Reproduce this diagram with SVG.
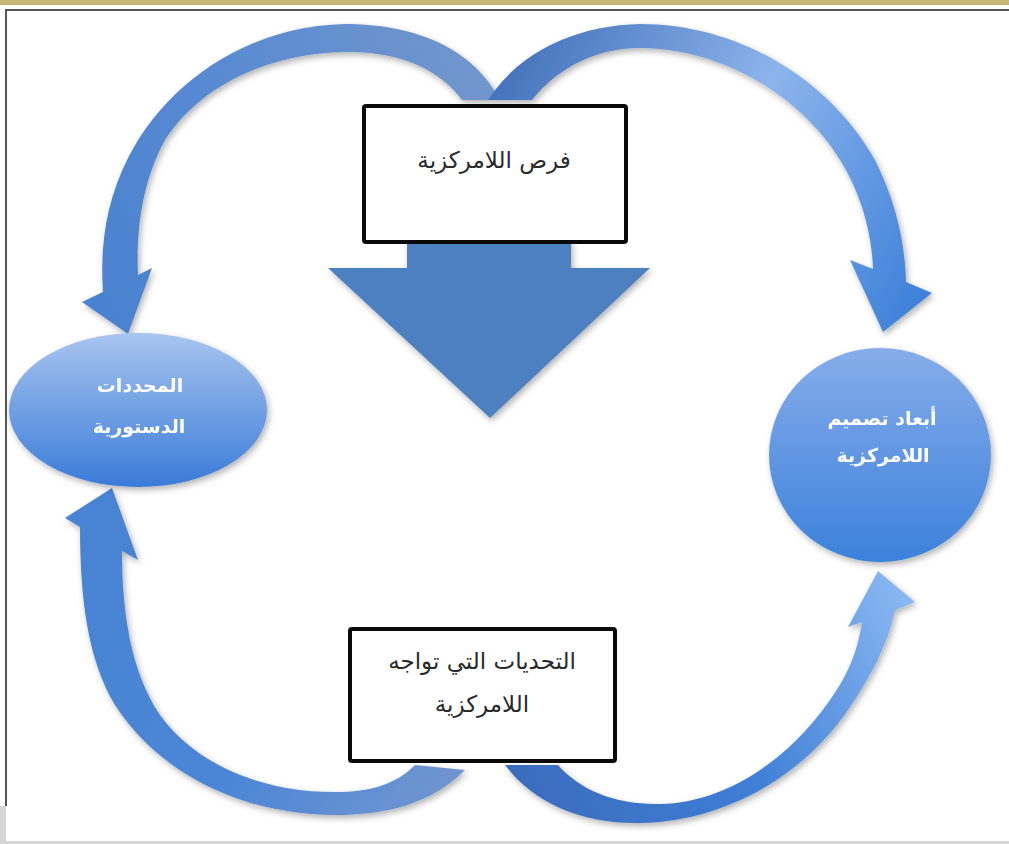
<svg xmlns="http://www.w3.org/2000/svg" width="1009" height="844" viewBox="0 0 1009 844">
<defs>
<style>
.box{fill:#ffffff;stroke:#0a0a0a;stroke-width:4}
.t{font-family:"DejaVu Sans",sans-serif;font-size:23px;fill:#2a2a2a;text-anchor:middle}
.w{font-family:"DejaVu Sans",sans-serif;font-size:19px;font-weight:bold;fill:#ffffff;text-anchor:middle}
</style>
<filter id="sh" x="-20%" y="-20%" width="140%" height="140%">
<feDropShadow dx="2" dy="3" stdDeviation="3" flood-color="#000" flood-opacity="0.3"/>
</filter>
<linearGradient id="gTL" gradientUnits="userSpaceOnUse" x1="500" y1="100" x2="100" y2="300">
<stop offset="0" stop-color="#7196cc"/><stop offset="0.5" stop-color="#5a8bd2"/><stop offset="1" stop-color="#4a82d0"/>
</linearGradient>
<linearGradient id="gTR" gradientUnits="userSpaceOnUse" x1="490" y1="100" x2="900" y2="330">
<stop offset="0" stop-color="#4674bc"/><stop offset="0.5" stop-color="#8db4ec"/><stop offset="1" stop-color="#3f82da"/>
</linearGradient>
<linearGradient id="gBL" gradientUnits="userSpaceOnUse" x1="460" y1="770" x2="100" y2="500">
<stop offset="0" stop-color="#6f95d0"/><stop offset="0.4" stop-color="#4b86d6"/><stop offset="1" stop-color="#4a84d4"/>
</linearGradient>
<linearGradient id="gBR" gradientUnits="userSpaceOnUse" x1="500" y1="765" x2="900" y2="570">
<stop offset="0" stop-color="#3a6cbd"/><stop offset="0.5" stop-color="#3f7fd6"/><stop offset="1" stop-color="#8bb9f2"/>
</linearGradient>
<linearGradient id="gE" x1="0" y1="0" x2="0" y2="1">
<stop offset="0" stop-color="#a8c5ef"/><stop offset="1" stop-color="#3a7bd8"/>
</linearGradient>
<linearGradient id="gC" x1="0" y1="0" x2="0" y2="1">
<stop offset="0" stop-color="#86adea"/><stop offset="1" stop-color="#3c81dc"/>
</linearGradient>
</defs>
<rect x="0" y="0" width="1009" height="844" fill="#ffffff"/>
<rect x="0" y="0" width="1009" height="5" fill="#c4b874"/>
<rect x="5" y="9" width="1004" height="2" fill="#555555"/>
<rect x="5" y="9" width="2" height="797" fill="#555555"/>
<rect x="0" y="806" width="6" height="38" fill="#d6d6d6"/>
<rect x="0" y="841" width="1009" height="3" fill="#d6d6d6"/>

<g id="connectors" filter="url(#sh)">
<path id="arc-top-left" fill="url(#gTL)" d="M 500,100 C 470,42 405,24 345,24 C 250,26 168,80 128,158 C 106,202 100,245 103,292 L 82,302 L 128,334 L 152,268 L 138,275 C 136,230 142,182 165,140 C 200,85 270,53 345,52 C 400,51 440,70 462,100 Z"/>
<path id="arc-top-right" fill="url(#gTR)" d="M 488,100 C 520,50 580,25 640,24 C 740,24 830,80 875,160 C 895,200 905,240 906,282 L 932,293 L 883,332 L 850,260 L 873,269 C 872,235 862,195 840,160 C 800,95 720,48 640,48 C 600,48 560,65 532,100 Z"/>
<path id="arc-bottom-left" fill="url(#gBL)" d="M 465,770 C 430,805 385,815 335,815 C 245,815 160,775 115,705 C 88,660 80,600 80,527 L 65,518 L 112,488 L 138,560 L 122,551 C 122,610 130,670 160,715 C 200,770 270,792 335,792 C 370,792 395,785 415,765 Z"/>
<path id="arc-bottom-right" fill="url(#gBR)" d="M 505,765 C 535,805 585,824 640,823 C 720,822 800,780 848,710 C 870,678 888,645 895,610 L 915,602 L 878,571 L 848,627 L 862,622 C 858,650 848,675 830,700 C 785,765 720,803 660,804 C 615,805 580,790 558,765 Z"/>
<path id="arrow-down" fill="#4e80c0" d="M 407,240 L 571,240 L 571,268 L 650,268 L 490,418 L 328,268 L 407,268 Z"/>
</g>

<g id="node-top">
<rect class="box" x="364" y="106" width="262" height="136" rx="2"/>
<text class="t" x="494" y="168" direction="rtl">فرص اللامركزية</text>
</g>

<g id="node-bottom">
<rect class="box" x="350" y="629" width="265" height="132" rx="2"/>
<text class="t" x="482" y="669" direction="rtl">التحديات التي تواجه</text>
<text class="t" x="482" y="712" direction="rtl">اللامركزية</text>
</g>

<g id="node-left" filter="url(#sh)">
<ellipse cx="138" cy="410" rx="129" ry="77" fill="url(#gE)"/>
<text class="w" x="140" y="392" direction="rtl">المحددات</text>
<text class="w" x="139" y="433" direction="rtl">الدستورية</text>
</g>

<g id="node-right" filter="url(#sh)">
<ellipse cx="880" cy="455" rx="111" ry="107" fill="url(#gC)"/>
<text class="w" x="882" y="425" direction="rtl">أبعاد تصميم</text>
<text class="w" x="883" y="462" direction="rtl">اللامركزية</text>
</g>
</svg>
